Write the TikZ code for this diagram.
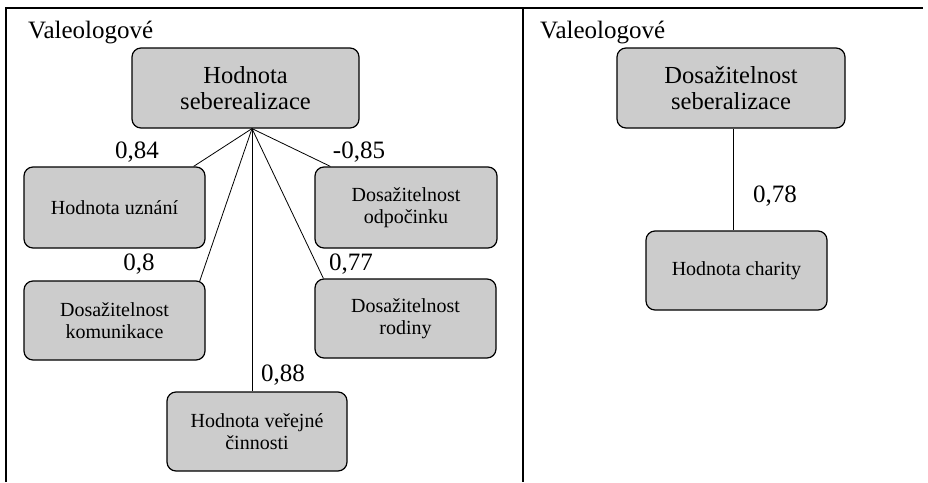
\documentclass[tikz,border=0pt]{standalone}
\usepackage{fontspec}
\setmainfont{Liberation Serif}
\usetikzlibrary{calc}
\definecolor{boxgray}{RGB}{204,204,204}
\begin{document}
\begin{tikzpicture}[x=1pt,y=-1pt,
  bigbox/.style={draw=black, line width=1.2pt, fill=boxgray, rounded corners=9pt,
    align=center, inner sep=0pt, font=\fontsize{24.5}{26.5}\selectfont},
  smallbox/.style={draw=black, line width=1.2pt, fill=boxgray, rounded corners=9pt,
    align=center, inner sep=0pt, font=\fontsize{20}{22.5}\selectfont},
  lbl/.style={inner sep=0pt, font=\fontsize{25}{28}\selectfont},
  link/.style={draw=black, line width=0.8pt},
  frame/.style={draw=black, line width=1.6pt}]
\useasboundingbox (0,0) rectangle (928,482);
% frame
\draw[frame] (6,482) -- (6,8) -- (923,8);
\draw[draw=black, line width=2.2pt] (523,8) -- (523,482);
% titles
\node[lbl, anchor=base west] (t1) at (28,38) {Valeologové};
\node[lbl, anchor=base west] (t2) at (540,38) {Valeologové};
% left nodes
\node[bigbox, minimum width=227pt, minimum height=80pt] (top) at (245.5,88) {Hodnota\\seberealizace};
\node[smallbox, minimum width=181pt, minimum height=81pt] (uzn) at (114.5,207.5) {Hodnota uznání};
\node[smallbox, minimum width=182pt, minimum height=81pt] (odp) at (406,207.5) {Dosažitelnost\\odpočinku};
\node[smallbox, minimum width=181pt, minimum height=79pt] (kom) at (114.5,320.5) {Dosažitelnost\\komunikace};
\node[smallbox, minimum width=181pt, minimum height=79pt] (rod) at (405.5,318.5) {Dosažitelnost\\rodiny};
\node[smallbox, minimum width=180pt, minimum height=79pt] (ver) at (257,431.5) {Hodnota veřejné\\činnosti};
% apex
\coordinate (apex) at ($(top.south)+(6.5,0)$);
\draw[link] (apex) -- ($(uzn.north east)+(-12,0)$);
\draw[link] (apex) -- ($(odp.north west)+(16,0)$);
\draw[link] (apex) -- ($(kom.north east)+(-6,1)$);
\draw[link] (apex) -- ($(rod.north west)+(9,0)$);
\draw[link] (apex) -- (apex |- ver.north);
% labels
\node[lbl] (l84) at (137,152) {0,84};
\node[lbl] (l85) at (359,152) {-0,85};
\node[lbl] (l8) at (139,264) {0,8};
\node[lbl] (l77) at (351,264) {0,77};
\node[lbl] (l88) at (283,375) {0,88};
% right panel
\node[bigbox, minimum width=228pt, minimum height=80pt] (rtop) at (731,88) {Dosažitelnost\\seberalizace};
\node[smallbox, minimum width=181pt, minimum height=79pt] (char) at (736.5,270.5) {Hodnota charity};
\coordinate (rs) at ($(rtop.south)+(2,0)$);
\draw[link] (rs) -- (rs |- char.north);
\node[lbl] (l78) at (775,196) {0,78};
\end{tikzpicture}
\end{document}
